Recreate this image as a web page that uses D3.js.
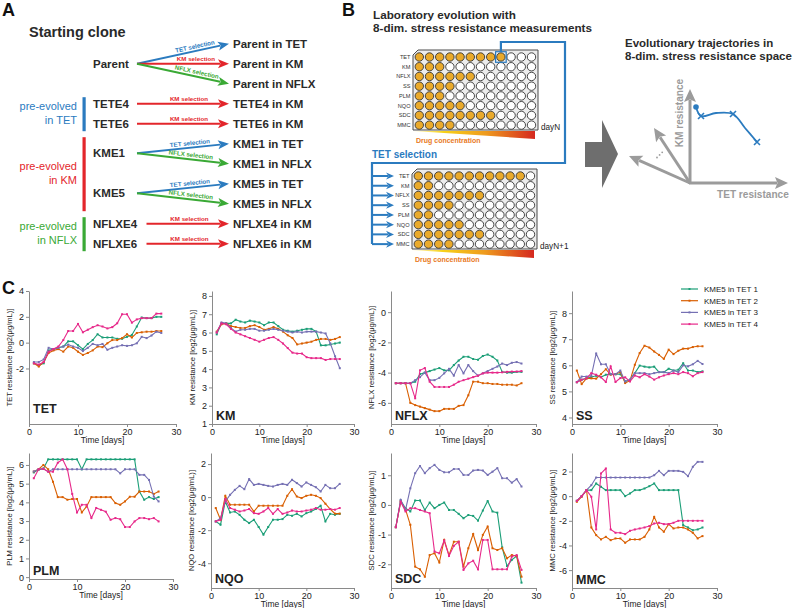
<!DOCTYPE html>
<html><head><meta charset="utf-8">
<script src="https://cdn.jsdelivr.net/npm/d3@7"></script>
<style>
body{margin:0;background:#fff}
svg{display:block}
text{font-family:"Liberation Sans",Arial,Helvetica,sans-serif}
</style>
</head><body>
<svg id="fig" width="798" height="608"></svg>
<script>
// ---------------- DATA ----------------
// Panel A
const evolvedLines = ["Parent in TET","Parent in KM","Parent in NFLX","TETE4 in KM","TETE6 in KM","KME1 in TET","KME1 in NFLX","KME5 in TET","KME5 in NFLX","NFLXE4 in KM","NFLXE6 in KM"];
const selectionDrug = ["TET","KM","NFLX","KM","KM","TET","NFLX","TET","NFLX","KM","KM"];
const startClones = ["Parent","TETE4","TETE6","KME1","KME5","NFLXE4","NFLXE6"];
const cloneTargets = [[0,1,2],[3],[4],[5,6],[7,8],[9],[10]];
const preEvolvedGroups = [["pre-evolved","in TET"],["pre-evolved","in KM"],["pre-evolved","in NFLX"]];
const preEvolvedDrug = ["TET","KM","NFLX"];
const preEvolvedClones = [[1,2],[3,4],[5,6]];

// Panel B
const stressNames = ["TET","KM","NFLX","SS","PLM","NQO","SDC","MMC"];
const grownWellsDayN = [9,3,6,4,3,5,8,4];
const grownWellsDayN1 = [11,2,7,4,2,5,7,4];
const nWells = 12;

// Panel C
const days = d3.range(1, 28);
const seriesNames = ["KME5 in TET 1","KME5 in TET 2","KME5 in TET 3","KME5 in TET 4"];
const seriesColors = ["#1b9e77","#d95f02","#7570b3","#e7298a"];

const TET = [
 [-1.6,-1.75,-1.6,-0.6,-0.5,-0.4,-0.3,0.1,0.1,-0.2,-0.5,-0.1,0.2,0.65,0.4,0.4,0.4,0.3,0.3,0.45,0.6,1.25,1.95,1.9,1.9,2.0,2.0],
 [-1.6,-1.85,-1.5,-0.8,-0.6,-0.5,-0.7,-0.3,-0.4,-0.7,-0.95,-0.8,-0.6,-0.3,-0.35,-0.05,0.2,0.2,0.35,0.65,0.4,0.75,0.8,0.85,0.85,0.9,0.9],
 [-1.5,-1.5,-1.3,-0.4,-0.5,-0.4,-0.3,-0.15,-0.3,-0.4,-0.65,-0.4,-0.1,-0.2,-0.1,-0.55,-0.4,-0.3,-0.2,-0.25,-0.2,-0.05,0.45,0.35,0.55,0.85,0.75],
 [-1.6,-1.7,-1.5,-0.7,-0.5,-0.3,0.2,0.9,0.9,1.45,0.8,1.0,1.2,1.35,1.25,1.1,1.2,1.5,2.2,2.2,1.55,1.8,1.9,1.9,1.9,2.25,2.25]
];
const KM = [
 [5.9,6.5,6.5,6.5,6.7,6.6,6.55,6.65,6.6,6.55,6.4,6.55,6.55,6.35,6.15,6.1,6.05,6.1,6.15,6.2,6.2,6.05,5.3,5.3,5.35,5.4,5.45],
 [6.05,6.45,6.5,6.35,6.3,6.25,6.25,6.35,6.4,6.3,6.15,6.2,6.3,6.2,6.05,5.85,5.7,5.35,5.4,5.45,5.5,5.6,5.65,5.65,5.6,5.65,5.75],
 [6.0,6.55,6.5,6.25,6.05,6.15,6.15,6.2,6.2,6.1,6.1,6.15,6.2,6.15,6.1,6.05,6.0,6.05,6.0,6.05,6.05,6.05,6.0,5.95,5.4,4.7,4.05],
 [6.0,6.5,6.45,6.2,6.0,5.9,5.8,5.7,5.6,5.5,5.6,5.7,5.75,5.6,5.4,5.15,4.9,4.85,4.85,4.65,4.6,4.6,4.6,4.5,4.55,4.55,4.55]
];
const NFLX = [
 [-4.7,-4.7,-4.7,-4.7,-4.6,-4.1,-4.0,-3.9,-3.8,-3.7,-3.85,-3.85,-3.5,-3.2,-2.95,-2.95,-3.1,-3.15,-2.9,-2.8,-2.95,-3.2,-3.95,-4.0,-4.0,-3.95,-3.95],
 [-4.7,-4.7,-4.7,-6.0,-6.15,-6.25,-6.35,-6.45,-6.55,-6.55,-6.4,-6.4,-6.4,-6.2,-6.15,-5.5,-4.6,-4.6,-4.7,-4.7,-4.75,-4.75,-4.8,-4.8,-4.8,-4.85,-4.7],
 [-4.7,-4.7,-4.7,-4.7,-4.5,-4.3,-4.0,-4.5,-4.5,-4.35,-4.05,-3.75,-4.2,-3.5,-4.05,-3.5,-3.9,-4.2,-4.05,-3.9,-3.75,-3.6,-3.4,-3.5,-3.35,-3.3,-3.4],
 [-4.7,-4.7,-4.7,-4.7,-5.7,-3.85,-3.7,-4.6,-4.95,-4.95,-4.95,-4.95,-4.8,-4.6,-4.5,-4.4,-4.3,-4.2,-4.05,-4.0,-4.0,-4.0,-3.98,-3.95,-3.93,-3.93,-3.9]
];
const SS = [
 [5.35,5.45,5.5,5.55,5.6,5.55,5.64,5.66,5.66,5.66,5.38,5.45,5.7,5.99,5.95,5.92,5.95,5.74,5.74,5.87,5.8,5.83,6.08,5.8,5.8,5.74,5.77],
 [5.8,5.28,5.5,5.5,5.49,5.66,5.85,5.64,5.66,5.74,5.32,5.41,6.02,6.47,6.75,6.68,6.53,6.4,6.25,6.6,6.43,6.56,6.64,6.64,6.7,6.73,6.73],
 [5.36,5.57,5.57,5.6,6.45,6.04,6.04,5.66,5.66,5.8,5.38,5.45,5.7,5.7,5.7,5.66,5.7,5.74,5.74,5.7,5.8,5.74,6.0,5.96,6.04,6.17,6.05],
 [5.35,5.45,5.5,5.7,5.64,5.54,5.36,5.96,5.36,5.51,5.54,5.38,5.61,5.54,5.66,5.57,5.45,5.54,5.61,5.66,5.7,5.66,5.74,5.7,5.58,5.7,5.74]
];
const PLM = [
 [5.6,5.75,5.8,6.3,6.3,6.3,6.3,6.3,6.3,6.3,5.77,6.3,6.3,6.3,6.3,6.3,6.3,6.3,6.3,6.3,6.3,6.3,4.58,4.14,4.28,4.18,4.28],
 [5.65,5.77,6.0,5.77,5.1,4.28,4.28,4.14,4.18,4.18,3.46,3.78,4.28,4.28,4.28,4.28,4.28,3.96,3.87,4.05,4.3,4.3,4.58,4.58,4.58,4.45,4.58],
 [5.65,5.77,5.8,5.64,5.77,5.77,5.77,5.77,5.77,5.77,5.77,5.77,5.77,5.77,5.77,5.77,5.77,5.77,5.55,5.77,5.77,5.77,5.47,5.47,5.2,4.31,4.05],
 [5.29,5.77,5.8,5.64,5.64,6.12,6.3,5.77,4.45,3.46,3.87,3.87,3.16,3.7,3.6,3.5,3.07,3.16,3.1,2.68,2.68,2.98,3.16,3.16,3.1,3.16,2.98]
];
const NQO = [
 [-1.47,-1.67,-0.26,-0.93,-0.87,-1.07,-1.37,-1.57,-1.37,-1.81,-2.27,-1.81,-1.37,-1.37,-1.33,-1.07,-1.13,-1.01,-1.17,-0.97,-0.87,-0.72,-0.52,-1.47,-1.01,-1.07,-1.01],
 [-0.66,-1.37,0.08,-0.46,-0.46,-0.46,-0.46,-0.46,-0.87,-0.52,-0.52,-0.52,-0.52,-0.52,-0.52,0.08,0.48,0.04,-0.06,0.08,0.14,0.08,-0.06,-0.4,-0.72,-1.0,-1.0],
 [-1.47,-1.27,-0.26,0.14,0.44,0.68,0.48,1.09,0.74,0.8,0.74,0.68,0.64,0.74,0.8,0.74,1.05,0.85,0.64,0.89,0.74,0.6,0.34,0.74,0.54,0.54,0.8],
 [-1.47,-1.37,-0.12,-0.66,-0.76,-0.87,-0.81,-0.72,-0.97,-1.01,-0.87,-0.66,-1.01,-0.72,-1.01,-0.93,-0.81,-0.87,-0.87,-0.81,-0.76,-0.66,-0.76,-0.76,-0.72,-0.76,-0.66]
];
const SDC = [
 [-0.75,0.15,-0.11,-0.22,0.15,0.15,-0.17,0.08,-0.11,0,0.08,-0.17,-0.17,-0.3,-0.45,-0.34,-0.37,-0.53,-0.19,0.13,-0.22,-0.26,-1.43,-2.06,-1.85,-1.72,-2.62],
 [-0.75,0.11,-0.15,-0.67,-2.08,-2.17,-2.42,-1.69,-1.63,-1.94,-1.18,-1.69,-1.24,-1.24,-2.08,-1.46,-0.98,-1.52,-1.01,-0.73,-1.46,-1.52,-1.46,-1.8,-1.69,-1.72,-2.42],
 [-0.75,0.17,-0.17,0.56,1.07,1.31,1.07,1.24,1.35,1.18,1.1,1.1,1.21,1.21,1.01,1.01,1.16,1.18,1.16,1.01,1.12,1.24,0.9,0.9,0.75,0.87,0.62],
 [-0.75,0.11,-0.22,-0.11,-0.11,-0.17,-0.22,-0.28,-1.57,-1.63,-1.2,-1.72,-1.38,-1.24,-2.19,-1.97,-1.88,-2.17,-1.18,-1.18,-2.17,-2.17,-2.17,-2.17,-1.74,-1.69,-2.19]
];
const MMC = [
 [-0.38,0,0.49,0.49,1.03,0.76,0.49,0.49,0.49,0.49,0,0.22,0.49,0.49,0.62,0.81,1.03,0.49,0.49,0.49,0.49,0.49,-2.35,-2.54,-2.76,-2.7,-2.54],
 [-0.46,-0.05,0.49,-2.54,-3.16,-3.51,-3.3,-3.57,-3.43,-3.43,-3.78,-3.51,-3.51,-3.51,-3.3,-2.7,-1.68,-2.54,-2.89,-2.27,-2.62,-2.54,-2.54,-2.7,-2.97,-3.43,-3.24],
 [-0.38,0,0.49,0.89,1.51,1.51,1.51,1.51,1.51,1.51,1.51,1.51,1.51,1.51,1.51,1.51,1.7,2.05,1.7,2.05,2.05,2.05,1.97,1.62,2.38,2.78,2.78],
 [-0.38,0,0.49,-0.05,-2.7,1.84,2.24,-2.7,-2.97,-2.97,-3.08,-2.81,-2.7,-2.62,-2.54,-2.43,-2.22,-2.16,-2.27,-2.27,-2.16,-2.0,-2.0,-2.0,-2.0,-2.0,-2.0]
];
const xTicks = [0,10,20,30];
const yTicksTET = [-2,0,2,4];
const yTicksKM = [1,2,3,4,5,6,7,8];
const yTicksNFLX = [-6,-4,-2,0];
const yTicksSS = [4,5,6,7,8];
const yTicksPLM = [0,1,2,3,4,5,6];
const yTicksNQO = [-4,-2,0,2];
const yTicksSDC = [-2,-1,0,1];
const yTicksMMC = [-6,-4,-2,0,2];

// ---------------- DRAW ----------------
const svg = d3.select("#fig");
const FONT = '"Liberation Sans",Arial,Helvetica,sans-serif';
const drugColor = {TET:"#2b7bbf", KM:"#e3262b", NFLX:"#3aa935"};

function arrow(g, x1, y1, x2, y2, color, hl, hw, lw) {
  const dx = x2 - x1, dy = y2 - y1, L = Math.hypot(dx, dy), ux = dx / L, uy = dy / L;
  const bx = x2 - ux * hl, by = y2 - uy * hl;
  g.append("line").attr("x1", x1).attr("y1", y1).attr("x2", bx + ux * 2).attr("y2", by + uy * 2)
    .attr("stroke", color).attr("stroke-width", lw);
  g.append("path").attr("d", `M${x2},${y2}L${bx - uy * hw},${by + ux * hw}L${bx + ux*2.5},${by + uy*2.5}L${bx + uy * hw},${by - ux * hw}Z`)
    .attr("fill", color);
}

// Panel letters
[["A",2,16],["B",342,16],["C",2,294]].forEach(([t,x,y]) =>
  svg.append("text").attr("x",x).attr("y",y).attr("font-size",18).attr("font-weight","bold").attr("fill","#111").text(t));

// ---------- Panel A ----------
const gA = svg.append("g");
gA.append("text").attr("x",29).attr("y",37).attr("font-size",14.5).attr("font-weight","bold").attr("fill","#2a2a2a").text("Starting clone");
const rowBase = i => 47.7 + 20 * i;
const rowMid = i => rowBase(i) - 4;
evolvedLines.forEach((t,i) => gA.append("text").attr("x",233).attr("y",rowBase(i)).attr("font-size",11.5)
  .attr("font-weight","bold").attr("fill","#2a2a2a").text(t));
const labelT = [0.64,0.565,0.565,0.58,0.58,0.52,0.52];
const arrowStart = [137,137,137,137,137,146.5,146.5];
startClones.forEach((c,ci) => {
  const tg = cloneTargets[ci];
  const cy = d3.mean(tg, rowMid) - (tg.length === 2 ? 0.5 : 0);
  gA.append("text").attr("x",93).attr("y",cy + 4).attr("font-size",11.5).attr("font-weight","bold").attr("fill","#2a2a2a").text(c);
  tg.forEach(ti => {
    const col = drugColor[selectionDrug[ti]];
    const x1 = arrowStart[ci], y1 = cy, x2 = 229, y2 = rowMid(ti);
    arrow(gA, x1, y1, x2, y2, col, 11, 4.5, 2);
    const t = labelT[ci];
    const px = x1 + t * (x2 - x1), py = y1 + t * (y2 - y1);
    const ang = Math.atan2(y2 - y1, x2 - x1) * 180 / Math.PI;
    gA.append("text").attr("transform", `translate(${px},${py}) rotate(${ang})`)
      .attr("y", -2.5).attr("text-anchor","middle").attr("font-size",6.2).attr("font-weight","bold")
      .attr("fill", col).text(selectionDrug[ti] + " selection");
  });
});
preEvolvedGroups.forEach((lab, gi) => {
  const col = drugColor[preEvolvedDrug[gi]];
  const cl = preEvolvedClones[gi];
  const rows = cl.flatMap(c => cloneTargets[c]);
  const yTop = rowMid(d3.min(rows)) - 6.5, yBot = rowMid(d3.max(rows)) + 7.5;
  gA.append("rect").attr("x",82.5).attr("y",yTop).attr("width",3.2).attr("height",yBot - yTop).attr("fill",col);
  const mid = (yTop + yBot) / 2;
  gA.append("text").attr("x",77).attr("y",mid - 4).attr("text-anchor","end").attr("font-size",11).attr("fill",col).text(lab[0]);
  gA.append("text").attr("x",77).attr("y",mid + 9.5).attr("text-anchor","end").attr("font-size",11).attr("fill",col).text(lab[1]);
});

// ---------- Panel B ----------
const gB = svg.append("g");
gB.append("text").attr("x",373).attr("y",19).attr("font-size",11.7).attr("font-weight","bold").attr("fill","#2a2a2a").text("Laboratory evolution with");
gB.append("text").attr("x",373).attr("y",32).attr("font-size",11.7).attr("font-weight","bold").attr("fill","#2a2a2a").text("8-dim. stress resistance measurements");

const defs = svg.append("defs");
const grad = defs.append("linearGradient").attr("id","drugGrad").attr("x1","0%").attr("x2","100%");
[["0%","#fff6c8"],["25%","#f7d21a"],["60%","#ee9a1e"],["100%","#d5281f"]].forEach(([o,c]) =>
  grad.append("stop").attr("offset",o).attr("stop-color",c));

function plate(px, py, grown, dayLabel) {
  const w = 125, h = 80, cx0 = px + 6.3, cy0 = py + 7, dxw = 10.2, dyw = 9.73;
  gB.append("path").attr("d",`M${px+5},${py}L${px+w},${py}L${px+w},${py+h}L${px},${py+h}L${px},${py+5}Z`)
    .attr("fill","#ececec").attr("stroke","#4a4a4a").attr("stroke-width",1);
  stressNames.forEach((s, r) => {
    gB.append("text").attr("x", px - 2.5).attr("y", cy0 + r * dyw + 2).attr("text-anchor","end")
      .attr("font-size",5.6).attr("fill","#333").text(s);
    d3.range(nWells).forEach(c => {
      gB.append("circle").attr("cx", cx0 + c * dxw).attr("cy", cy0 + r * dyw).attr("r", 4.2)
        .attr("fill", c < grown[r] ? "#eaaa2b" : "#fff").attr("stroke","#333").attr("stroke-width",0.9);
    });
  });
  gB.append("text").attr("x", px + w + 3).attr("y", py + h).attr("font-size",8.2).attr("fill","#222").text(dayLabel);
  gB.append("path").attr("d",`M${px},${py+h+1}L${px+w-3},${py+h+1}L${px+w-3},${py+h+9}Z`).attr("fill","url(#drugGrad)");
  gB.append("text").attr("x", px + 3).attr("y", py + h + 12.5).attr("font-size",7).attr("font-weight","bold")
    .attr("fill","#e8791d").text("Drug concentration");
  return {cx: c => cx0 + c * dxw, cy: r => cy0 + r * dyw};
}
const p1 = plate(413, 50, grownWellsDayN, "dayN");
const p2 = plate(412, 169, grownWellsDayN1, "dayN+1");
const hc = grownWellsDayN[0] - 1;
const hx = p1.cx(hc), hy = p1.cy(0);
const blue = "#2b7bbf";
gB.append("rect").attr("x",hx-5.3).attr("y",hy-5.3).attr("width",10.6).attr("height",10.6)
  .attr("fill","none").attr("stroke",blue).attr("stroke-width",1.2);
gB.append("path").attr("d",`M${hx},${hy-5.3}L${hx},42L565,42L565,163L372,163L372,${p2.cy(7)}`)
  .attr("fill","none").attr("stroke",blue).attr("stroke-width",2.2);
gB.append("text").attr("x",372).attr("y",158).attr("font-size",10).attr("font-weight","bold").attr("fill",blue).text("TET selection");
stressNames.forEach((s, r) => arrow(gB, 372, p2.cy(r), 394, p2.cy(r), blue, 8, 3.6, 2));

// Right: trajectory schematic
const gR = svg.append("g");
gR.append("path").attr("d","M585,142L602,142L602,120L618,154L602,188L602,167L585,167Z").attr("fill","#6e6e6e");
gR.append("text").attr("x",625).attr("y",47).attr("font-size",11.5).attr("font-weight","bold").attr("fill","#2a2a2a").text("Evolutionary trajectories in");
gR.append("text").attr("x",625).attr("y",60).attr("font-size",11.5).attr("font-weight","bold").attr("fill","#2a2a2a").text("8-dim. stress resistance space");
const gray = "#9b9b9b";
const ox = 690, oy = 183;
arrow(gR, ox, oy + 1, ox, 89, gray, 13, 6, 3);
arrow(gR, ox - 1, oy, 788, oy, gray, 13, 6, 3);
arrow(gR, ox, oy, 654, 128, gray, 13, 6, 3);
arrow(gR, ox, oy, 629, 156, gray, 13, 6, 3);
[0,1,2].forEach(i => gR.append("circle").attr("cx",657 + i * 2.6).attr("cy",157.5 - i * 2.6).attr("r",0.9).attr("fill",gray));
gR.append("text").attr("transform","translate(683,113) rotate(-90)").attr("text-anchor","middle")
  .attr("font-size",10.1).attr("font-weight","bold").attr("fill",gray).text("KM resistance");
gR.append("text").attr("x",717).attr("y",198).attr("font-size",10.1).attr("font-weight","bold").attr("fill",gray).text("TET resistance");
const trajPts = [[696,107],[701,116],[716,113],[733,114],[745,128],[757,142]];
gR.append("path").attr("d", d3.line().curve(d3.curveCatmullRom)(trajPts)).attr("fill","none").attr("stroke",blue).attr("stroke-width",1.8);
gR.append("circle").attr("cx",696).attr("cy",107).attr("r",2.8).attr("fill",blue);
[[701,116],[733,114],[757,142]].forEach(([x,y]) => {
  gR.append("path").attr("d",`M${x-3},${y-3}L${x+3},${y+3}M${x-3},${y+3}L${x+3},${y-3}`).attr("stroke",blue).attr("stroke-width",1.6);
});

// ---------- Panel C ----------
const panels = [
  {name:"TET", data:TET, ticks:yTicksTET, dom:[-6.3,4], x0:29, x1:176, yt:291, yb:424, lab:11},
  {name:"KM", data:KM, ticks:yTicksKM, dom:[1,8.27], x0:212, x1:354, yt:291, yb:424, lab:4},
  {name:"NFLX", data:NFLX, ticks:yTicksNFLX, dom:[-7.4,1.4], x0:391, x1:536, yt:291, yb:424, lab:4},
  {name:"SS", data:SS, ticks:yTicksSS, dom:[3.75,8.85], x0:572, x1:717, yt:291, yb:424, lab:4},
  {name:"PLM", data:PLM, ticks:yTicksPLM, dom:[-0.1,6.64], x0:29, x1:173, yt:453, yb:579, lab:4},
  {name:"NQO", data:NQO, ticks:yTicksNQO, dom:[-5.5,2.67], x0:211, x1:354, yt:453, yb:588, lab:5},
  {name:"SDC", data:SDC, ticks:yTicksSDC, dom:[-2.8,1.75], x0:391, x1:536, yt:453, yb:588, lab:5},
  {name:"MMC", data:MMC, ticks:yTicksMMC, dom:[-7.45,3.5], x0:572, x1:717, yt:453, yb:588, lab:4}
];
const axisCol = "#8a8a8a";
panels.forEach(p => {
  const x = d3.scaleLinear().domain([0,30]).range([p.x0, p.x1]);
  const y = d3.scaleLinear().domain(p.dom).range([p.yb, p.yt]);
  const g = svg.append("g");
  const ax = g.append("g").attr("transform",`translate(0,${p.yb})`)
    .call(d3.axisBottom(x).tickValues(xTicks).tickFormat(d => String(d)).tickSize(3).tickSizeOuter(0).tickPadding(2));
  const ay = g.append("g").attr("transform",`translate(${p.x0},0)`)
    .call(d3.axisLeft(y).tickValues(p.ticks).tickFormat(d => String(d)).tickSize(3).tickSizeOuter(0).tickPadding(2));
  [ax, ay].forEach(a => {
    a.select(".domain").attr("stroke",axisCol);
    a.selectAll(".tick line").attr("stroke",axisCol);
    a.selectAll("text").attr("font-family",FONT).attr("font-size",9).attr("fill","#222");
  });
  g.append("text").attr("x",(p.x0 + p.x1) / 2).attr("y",p.yb + 19).attr("text-anchor","middle")
    .attr("font-size",8.5).attr("fill","#222").text("Time [days]");
  g.append("text").attr("transform",`translate(${p.x0 - 17},${(p.yt + p.yb) / 2}) rotate(-90)`)
    .attr("text-anchor","middle").attr("font-size",7.6).attr("fill","#222")
    .text(p.name + " resistance [log2(\u03bcg/mL)]");
  g.append("text").attr("x",p.x0 + 4).attr("y",p.yb - p.lab).attr("font-size",12.5).attr("font-weight","bold")
    .attr("fill","#222").text(p.name);
  const line = d3.line().x((d,i) => x(days[i])).y(d => y(d));
  p.data.forEach((s, si) => {
    g.append("path").attr("d", line(s)).attr("fill","none").attr("stroke",seriesColors[si]).attr("stroke-width",1.1);
    g.selectAll(null).data(s).enter().append("rect")
      .attr("x",(d,i) => x(days[i]) - 1).attr("y",d => y(d) - 1).attr("width",2).attr("height",2)
      .attr("fill",seriesColors[si]);
  });
});
// legend
const gL = svg.append("g");
seriesNames.forEach((n, i) => {
  const ly = 289 + i * 11.7;
  gL.append("line").attr("x1",681).attr("x2",698).attr("y1",ly).attr("y2",ly).attr("stroke",seriesColors[i]).attr("stroke-width",1.2);
  gL.append("rect").attr("x",688.5).attr("y",ly - 1).attr("width",2).attr("height",2).attr("fill",seriesColors[i]);
  gL.append("text").attr("x",704).attr("y",ly + 3).attr("font-size",8).attr("fill","#222").text(n);
});
</script>
</body></html>
